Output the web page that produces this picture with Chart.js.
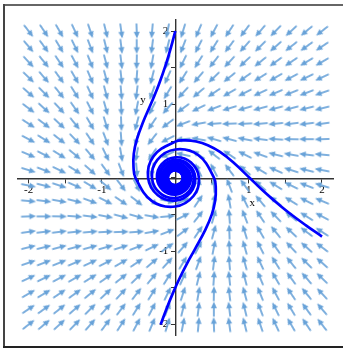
<!DOCTYPE html>
<html><head><meta charset="utf-8">
<script src="https://cdn.jsdelivr.net/npm/chart.js@4.4.1/dist/chart.umd.min.js"></script>
<style>html,body{margin:0;padding:0;background:#fff;overflow:hidden}#wrap{width:343px;height:349px;position:relative}</style>
</head><body><div id="wrap"><canvas id="c" width="343" height="349"></canvas></div>
<script>
// ---- direction field: grid coordinates (columns left->right, rows top->bottom) ----
const gridX = [-2,-1.789,-1.579,-1.368,-1.158,-0.947,-0.737,-0.526,-0.316,-0.105,0.105,0.316,0.526,0.737,0.947,1.158,1.368,1.579,1.789,2];
const gridY = [2,1.789,1.579,1.368,1.158,0.947,0.737,0.526,0.316,0.105,-0.105,-0.316,-0.526,-0.737,-0.947,-1.158,-1.368,-1.579,-1.789,-2];
// arrow direction (degrees, counter-clockwise from +x) for each grid cell, rows top->bottom
const fieldAngles = [
[308,304,300,295,289,284,278,272,265,259,253,247,242,237,233,229,226,223,220,218],
[310,306,301,296,291,284,277,270,263,256,249,243,238,233,228,225,221,219,216,214],
[313,309,304,298,292,285,277,269,260,252,244,238,232,227,223,219,216,214,211,210],
[316,311,306,300,293,285,276,266,256,246,238,230,224,219,215,212,210,208,206,205],
[319,315,309,302,295,285,275,263,250,239,228,220,214,210,207,205,203,202,201,199],
[323,318,313,305,297,286,273,259,243,229,216,206,201,197,196,195,195,195,194,194],
[327,323,317,309,300,287,272,255,236,217,201,190,184,182,183,185,186,187,187,188],
[332,328,322,314,304,291,274,254,232,207,185,170,164,165,169,173,176,179,180,182],
[337,333,328,320,310,296,280,260,236,205,168,146,142,146,153,160,166,170,173,175],
[343,339,334,328,318,306,291,275,258,226,136,115,117,127,139,149,156,162,166,169],
[349,346,342,336,329,319,307,297,295,316,46,78,95,111,126,138,148,154,159,163],
[355,353,350,346,340,333,326,322,326,348,25,56,80,100,116,130,140,148,153,157],
[2,0,359,356,353,349,345,344,350,5,27,52,74,94,111,124,134,142,148,152],
[8,7,7,6,5,3,2,4,10,21,37,56,75,92,107,120,129,137,143,147],
[14,14,15,15,15,16,17,21,26,36,49,63,79,93,106,117,125,133,138,143],
[19,21,22,23,25,27,30,34,40,48,59,70,83,95,105,115,122,129,135,139],
[25,26,28,30,32,35,39,44,50,58,66,76,86,96,105,113,120,126,131,136],
[30,31,34,36,39,43,47,52,58,64,72,80,89,97,105,112,118,124,129,133],
[34,36,39,41,45,48,53,58,63,69,76,83,90,97,104,111,116,121,126,130],
[38,40,43,46,49,53,57,62,67,73,79,85,92,98,104,109,115,120,124,128]
];

// ---- axis ticks ----
const xTickValues = [-2,-1.5,-1,-0.5,0,0.5,1,1.5,2];
const xTickLabels = ['-2','','-1','','0','','1','','2'];
const yTickValues = [-2,-1.5,-1,-0.5,0,0.5,1,1.5,2];
const yTickLabels = ['-2','','-1','','','','1','','2'];
const axisTitles = ['x','y'];

// ---- solution curve 1: starts at (0, 2) ----
const curve1X = [0,-0.062,-0.134,-0.224,-0.294,-0.351,-0.439,-0.524,-0.566,-0.570,
-0.543,-0.317,0,0.248,0.322,0.211,0,-0.186,
-0.250,-0.169,0,0.155,0.212,0.145,0,-0.136,
-0.187,-0.129,0,0.123,0.170,0.117,0,-0.113,
-0.156,-0.108,0,0.105,0.145,0.101,0,-0.098,
-0.137,-0.095,0,0.093,0.129,0.090,0,-0.088,
-0.123,-0.086,0,0.084,0.117,0.082,0,-0.080,
-0.113,-0.079,0,0.077,0.108,0.076,0,-0.075,
-0.105,-0.073,0,0.072,0.101,0.071,0];
const curve1Y = [2,1.767,1.529,1.272,1.098,0.965,0.760,0.524,0.327,0.153,
0,-0.317,-0.391,-0.248,0,0.211,0.279,0.186,
0,-0.169,-0.229,-0.155,0,0.145,0.199,0.136,
0,-0.129,-0.178,-0.123,0,0.117,0.162,0.113,
0,-0.108,-0.150,-0.105,0,0.101,0.141,0.098,
0,-0.095,-0.133,-0.093,0,0.090,0.126,0.088,
0,-0.086,-0.120,-0.084,0,0.082,0.115,0.080,
0,-0.079,-0.111,-0.077,0,0.076,0.107,0.075,
0,-0.073,-0.103,-0.072,0,0.071,0.100];

// ---- solution curve 2: starts at (-0.2, -2) ----
const curve2X = [-0.2,-0.126,-0.027,0.070,0.163,0.263,0.409,0.498,0.543,0.552,
0.528,0.311,0,-0.245,-0.318,-0.209,0,0.185,
0.249,0.168,0,-0.155,-0.211,-0.144,0,0.136,
0.187,0.128,0,-0.122,-0.169,-0.117,0,0.112,
0.156,0.108,0,-0.104,-0.145,-0.101,0,0.098,
0.136,0.095,0,-0.092,-0.129,-0.090,0,0.088,
0.123,0.086,0,-0.084,-0.117,-0.082,0,0.080,
0.113,0.079,0,-0.077,-0.108,-0.076,0,0.075,
0.105,0.073,0,-0.072,-0.101,-0.071];
const curve2Y = [-2,-1.800,-1.558,-1.345,-1.162,-0.981,-0.709,-0.498,-0.314,-0.148,
0,0.311,0.386,0.245,0,-0.209,-0.277,-0.185,
0,0.168,0.228,0.155,0,-0.144,-0.198,-0.136,
0,0.128,0.177,0.122,0,-0.117,-0.162,-0.112,
0,0.108,0.150,0.104,0,-0.101,-0.140,-0.098,
0,0.095,0.133,0.092,0,-0.090,-0.126,-0.088,
0,0.086,0.120,0.084,0,-0.082,-0.115,-0.080,
0,0.079,0.110,0.077,0,-0.076,-0.106,-0.075,
0,0.073,0.103,0.072,0,-0.071];

// ---- solution curve 3: starts at (2, -0.8) ----
const curve3X = [2,1.781,1.545,1.348,1.186,1.012,0.789,0.609,0.443,0.285,0.136,
0,-0.296,-0.371,-0.238,0,0.204,0.272,0.182,
0,-0.165,-0.225,-0.153,0,0.143,0.196,0.134,
0,-0.127,-0.176,-0.121,0,0.116,0.161,0.111,
0,-0.107,-0.149,-0.104,0,0.100,0.140,0.097,
0,-0.095,-0.132,-0.092,0,0.090,0.125,0.087,
0,-0.085,-0.119,-0.084,0,0.082,0.114,0.080,
0,-0.079,-0.110,-0.077,0,0.076,0.106,0.074,
0,-0.073,-0.103,-0.072,0,0.071];
const curve3Y = [-0.8,-0.648,-0.473,-0.311,-0.167,0,0.211,0.352,0.443,0.494,0.509,
0.493,0.296,0,-0.238,-0.310,-0.204,0,0.182,
0.245,0.165,0,-0.153,-0.209,-0.143,0,0.134,
0.185,0.127,0,-0.121,-0.168,-0.116,0,0.111,
0.155,0.107,0,-0.104,-0.144,-0.100,0,0.097,
0.136,0.095,0,-0.092,-0.128,-0.090,0,0.087,
0.122,0.085,0,-0.084,-0.117,-0.082,0,0.080,
0.112,0.079,0,-0.077,-0.108,-0.076,0,0.074,
0.104,0.073,0,-0.072,-0.101,-0.071];

// ---------------- build chart ----------------
const ARROW_COLOR = 'rgb(104,162,216)';
const CURVE_COLOR = '#0000ff';

const arrowImg = document.createElement('canvas');
arrowImg.width = 18; arrowImg.height = 18;
(function(){
  const g = arrowImg.getContext('2d');
  g.strokeStyle = ARROW_COLOR; g.fillStyle = ARROW_COLOR;
  g.lineWidth = 1.7; g.lineCap = 'butt';
  g.beginPath(); g.moveTo(1.5, 9); g.lineTo(11, 9); g.stroke();
  g.beginPath(); g.moveTo(16.5, 9); g.lineTo(9.8, 6.0); g.lineTo(9.8, 12.0); g.closePath(); g.fill();
})();

const zip = (xs, ys) => xs.map((x, i) => ({x: x, y: ys[i]}));
const fieldPoints = [];
gridY.forEach((y, r) => gridX.forEach((x, c) => fieldPoints.push({x: x, y: y, a: fieldAngles[r][c]})));

const curveStyle = {showLine: true, borderColor: CURVE_COLOR, backgroundColor: CURVE_COLOR, borderWidth: 2.7,
  pointRadius: 0, tension: 0.4, fill: false, order: 1};

const framePlugin = {
  id: 'frame',
  beforeDraw(chart) {
    const c = chart.ctx;
    c.save();
    c.fillStyle = '#fff'; c.fillRect(0, 0, chart.width, chart.height);
    c.lineWidth = 2;
    c.strokeStyle = '#666';
    c.beginPath(); c.moveTo(4, 5); c.lineTo(chart.width, 5); c.stroke();
    c.strokeStyle = '#444';
    c.beginPath(); c.moveTo(4, 4); c.lineTo(4, 347); c.stroke();
    c.strokeStyle = '#222';
    c.beginPath(); c.moveTo(3, 347); c.lineTo(chart.width, 347); c.stroke();
    c.restore();
  }
};

const titlePlugin = {
  id: 'axisTitles',
  afterDraw(chart, args, opts) {
    const c = chart.ctx, sx = chart.scales.x, sy = chart.scales.y;
    c.save();
    c.fillStyle = '#000';
    c.font = '11px "Liberation Serif", "Times New Roman", serif';
    c.textAlign = 'center'; c.textBaseline = 'middle';
    c.fillText(axisTitles[0], sx.getPixelForValue(opts.xAt[0]), sy.getPixelForValue(opts.xAt[1]));
    c.fillText(axisTitles[1], sx.getPixelForValue(opts.yAt[0]), sy.getPixelForValue(opts.yAt[1]));
    c.restore();
  }
};

const tickFont = {family: '"Liberation Serif", "Times New Roman", serif', size: 11};
function axisOpts(values, labels, isX) {
  return {
    type: 'linear', min: -2.15, max: 2.15, position: 'center', z: 1,
    afterBuildTicks: s => { s.ticks = values.map(v => ({value: v})); },
    afterFit: s => { if (isX) s.height = 0; else s.width = 0;
      s.paddingLeft = 0; s.paddingRight = 0; s.paddingTop = 0; s.paddingBottom = 0; },
    grid: {drawOnChartArea: false, drawTicks: true, tickLength: 4, color: '#333', lineWidth: 1},
    border: {display: true, color: '#333', width: 1.4},
    ticks: {autoSkip: false, maxRotation: 0, minRotation: 0, padding: isX ? 2 : 3, color: '#000', font: tickFont,
      callback: (v, i) => labels[i]}
  };
}

new Chart(document.getElementById('c'), {
  type: 'scatter',
  data: {datasets: [
    Object.assign({label: 'curve 1', data: zip(curve1X, curve1Y)}, curveStyle),
    Object.assign({label: 'curve 2', data: zip(curve2X, curve2Y)}, curveStyle),
    Object.assign({label: 'curve 3', data: zip(curve3X, curve3Y)}, curveStyle),
    {label: 'field', data: fieldPoints, pointStyle: arrowImg, rotation: ctx => -(ctx.raw ? ctx.raw.a : 0),
      pointRadius: 9, pointHoverRadius: 9, order: 2, showLine: false}
  ]},
  options: {
    responsive: false, animation: false, devicePixelRatio: 1, events: [],
    layout: {padding: {left: 17.6, right: 9.6, top: 20, bottom: 13.4}},
    plugins: {legend: {display: false}, tooltip: {enabled: false},
      axisTitles: {xAt: [1.05, -0.34], yAt: [-0.44, 1.06]}},
    scales: {x: axisOpts(xTickValues, xTickLabels, true), y: axisOpts(yTickValues, yTickLabels, false)}
  },
  plugins: [framePlugin, titlePlugin]
});
</script></body></html>
